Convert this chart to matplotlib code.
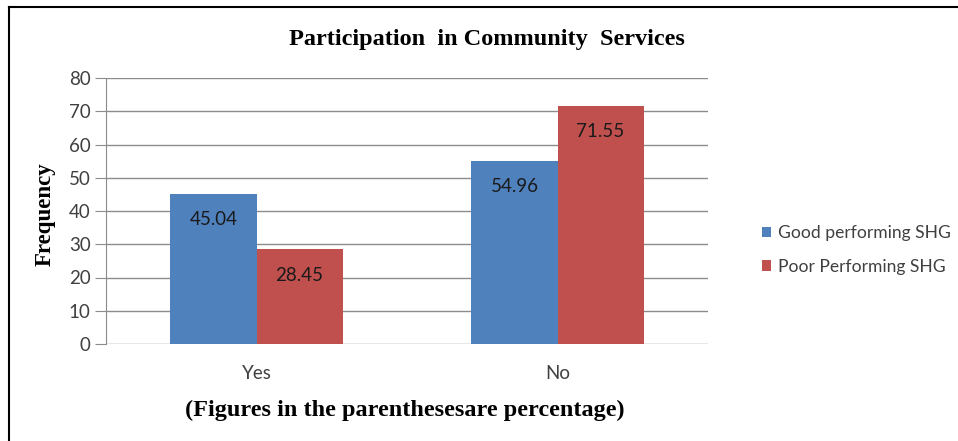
import matplotlib
matplotlib.use("Agg")
import matplotlib.pyplot as plt
import numpy as np
from matplotlib.lines import Line2D

categories = ["Yes", "No"]
good_shg = [45.04, 54.96]
poor_shg = [28.45, 71.55]
series_names = ["Good performing SHG", "Poor Performing SHG"]
y_ticks = [0, 10, 20, 30, 40, 50, 60, 70, 80]

BLUE = "#4F81BD"
RED = "#C0504D"
GRID = "#8C8C8C"
TEXT = "#404040"
SANS = ["Lato", "DejaVu Sans"]
SERIF = ["Liberation Serif", "DejaVu Serif"]

fig = plt.figure(figsize=(9.58, 4.41), dpi=100)
ax = fig.add_axes([106 / 958, 1 - 344 / 441, (708 - 106) / 958, (344 - 78) / 441])

x = np.arange(len(categories))
w = 0.286
b1 = ax.bar(x - w / 2, good_shg, w, color=BLUE, label=series_names[0])
b2 = ax.bar(x + w / 2, poor_shg, w, color=RED, label=series_names[1])

for bars, vals in ((b1, good_shg), (b2, poor_shg)):
    for bar, v in zip(bars, vals):
        ax.annotate(f"{v:.2f}", (bar.get_x() + bar.get_width() / 2, v),
                    xytext=(0, -18.5), textcoords="offset points",
                    ha="center", va="center", fontsize=13.5,
                    family=SANS, color="#1a1a1a")

ax.set_xlim(-0.5, 1.5)
ax.set_ylim(0, 80)
ax.set_yticks(y_ticks)
ax.set_xticks(x)
ax.set_xticklabels(categories)
ax.yaxis.grid(True, color=GRID, linewidth=1)
ax.set_axisbelow(True)
for s in ("top", "right", "bottom"):
    ax.spines[s].set_visible(False)
ax.spines["left"].set_color(GRID)
ax.tick_params(axis="y", length=8, color=GRID, labelcolor=TEXT, labelsize=13.5, pad=3)
ax.tick_params(axis="x", length=0, labelcolor=TEXT, labelsize=13.5, pad=15)
for lab in ax.get_xticklabels() + ax.get_yticklabels():
    lab.set_family(SANS)

fig.text(487 / 958, 1 - 40 / 441, "Participation  in Community  Services",
         ha="center", va="center", fontsize=17.5, fontweight="bold", family=SERIF)
fig.text(45 / 958, 1 - 214 / 441, "Frequency", rotation=90,
         ha="center", va="center", fontsize=16.5, fontweight="bold", family=SERIF)
fig.text(405 / 958, 1 - 410 / 441, "(Figures in the parenthesesare percentage)",
         ha="center", va="center", fontsize=17.5, fontweight="bold", family=SERIF)

leg = fig.legend(handles=[b1, b2], labels=series_names,
                 loc="center left", bbox_to_anchor=(746 / 958, 1 - 250 / 441),
                 frameon=False, prop={"family": SANS, "size": 12.6},
                 handlelength=0.55, handleheight=0.55, handletextpad=0.35,
                 labelspacing=1.0, labelcolor=TEXT)

# outer frame along the top and left edges
fig.add_artist(Line2D([9 / 958, 9 / 958], [0, 1 - 7 / 441], color="black",
                      linewidth=1.5, transform=fig.transFigure))
fig.add_artist(Line2D([9 / 958, 1], [1 - 7 / 441, 1 - 7 / 441], color="black",
                      linewidth=1.5, transform=fig.transFigure))

fig.savefig("out.png", dpi=100)
